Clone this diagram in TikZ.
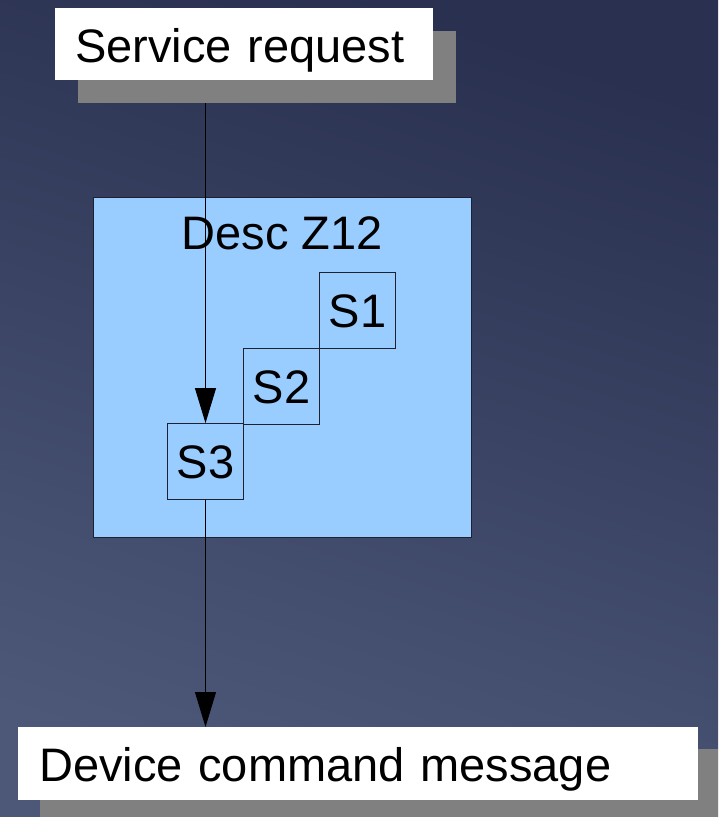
\documentclass[tikz,border=0pt]{standalone}
\usepackage{fontspec}
\setmainfont{Liberation Sans}
\usetikzlibrary{arrows.meta}

\definecolor{bgtop}{HTML}{293050}
\definecolor{bgbottom}{HTML}{4D5878}
\definecolor{shadowgray}{HTML}{808080}
\definecolor{zonefill}{HTML}{99CCFF}
\definecolor{edgedark}{HTML}{1E2230}

\tikzset{
  bigfont/.style={font=\fontsize{47}{56}\selectfont},
  msgbox/.style={fill=white, inner ysep=0pt, align=left, bigfont,
                 text height=36pt, text depth=0pt, anchor=north west},
  zonebox/.style={fill=zonefill, draw=edgedark, line width=0.9pt},
  stepbox/.style={draw=edgedark, line width=0.8pt, minimum width=76pt,
                  minimum height=76pt, inner sep=0pt, bigfont,
                  text height=34pt, text depth=0pt},
  flow/.style={line width=0.9pt, -{Triangle[length=35pt, width=21pt]}}
}

\begin{document}
\begin{tikzpicture}[x=1pt, y=-1pt]
  \useasboundingbox (0,0) rectangle (718,817);
  % backdrop
  \shade[top color=bgtop, bottom color=bgbottom, shading angle=-18]
    (0,0) rectangle (718,817);

  % zone with its three steps
  \draw[zonebox] (93,197) rectangle (471,537);
  \node[bigfont, inner sep=0pt, text height=34pt, text depth=0pt,
        anchor=base] (zone) at (282,249) {Desc Z12};
  \node[stepbox] (s1) at (357.5,310) {S1};
  \node[stepbox] (s2) at (281.5,386) {S2};
  \node[stepbox] (s3) at (205.5,461.5) {S3};

  % message boxes, each over its drop shadow
  \fill[shadowgray] (78,31) rectangle (456,103);
  \node[msgbox, inner xsep=20pt, text width=338pt, minimum height=72pt]
    (req) at (55,8) {Service request};
  \fill[shadowgray] (40,749) rectangle (718,817);
  \node[msgbox, inner xsep=21pt, text width=638pt, minimum height=73pt]
    (cmd) at (18,727) {Device command message};

  % flow through the zone
  \coordinate (reqout) at (s3 |- 0,103);
  \draw[flow] (reqout) -- (s3.north);
  \draw[flow] (s3.south) -- (s3 |- cmd.north);
\end{tikzpicture}
\end{document}
